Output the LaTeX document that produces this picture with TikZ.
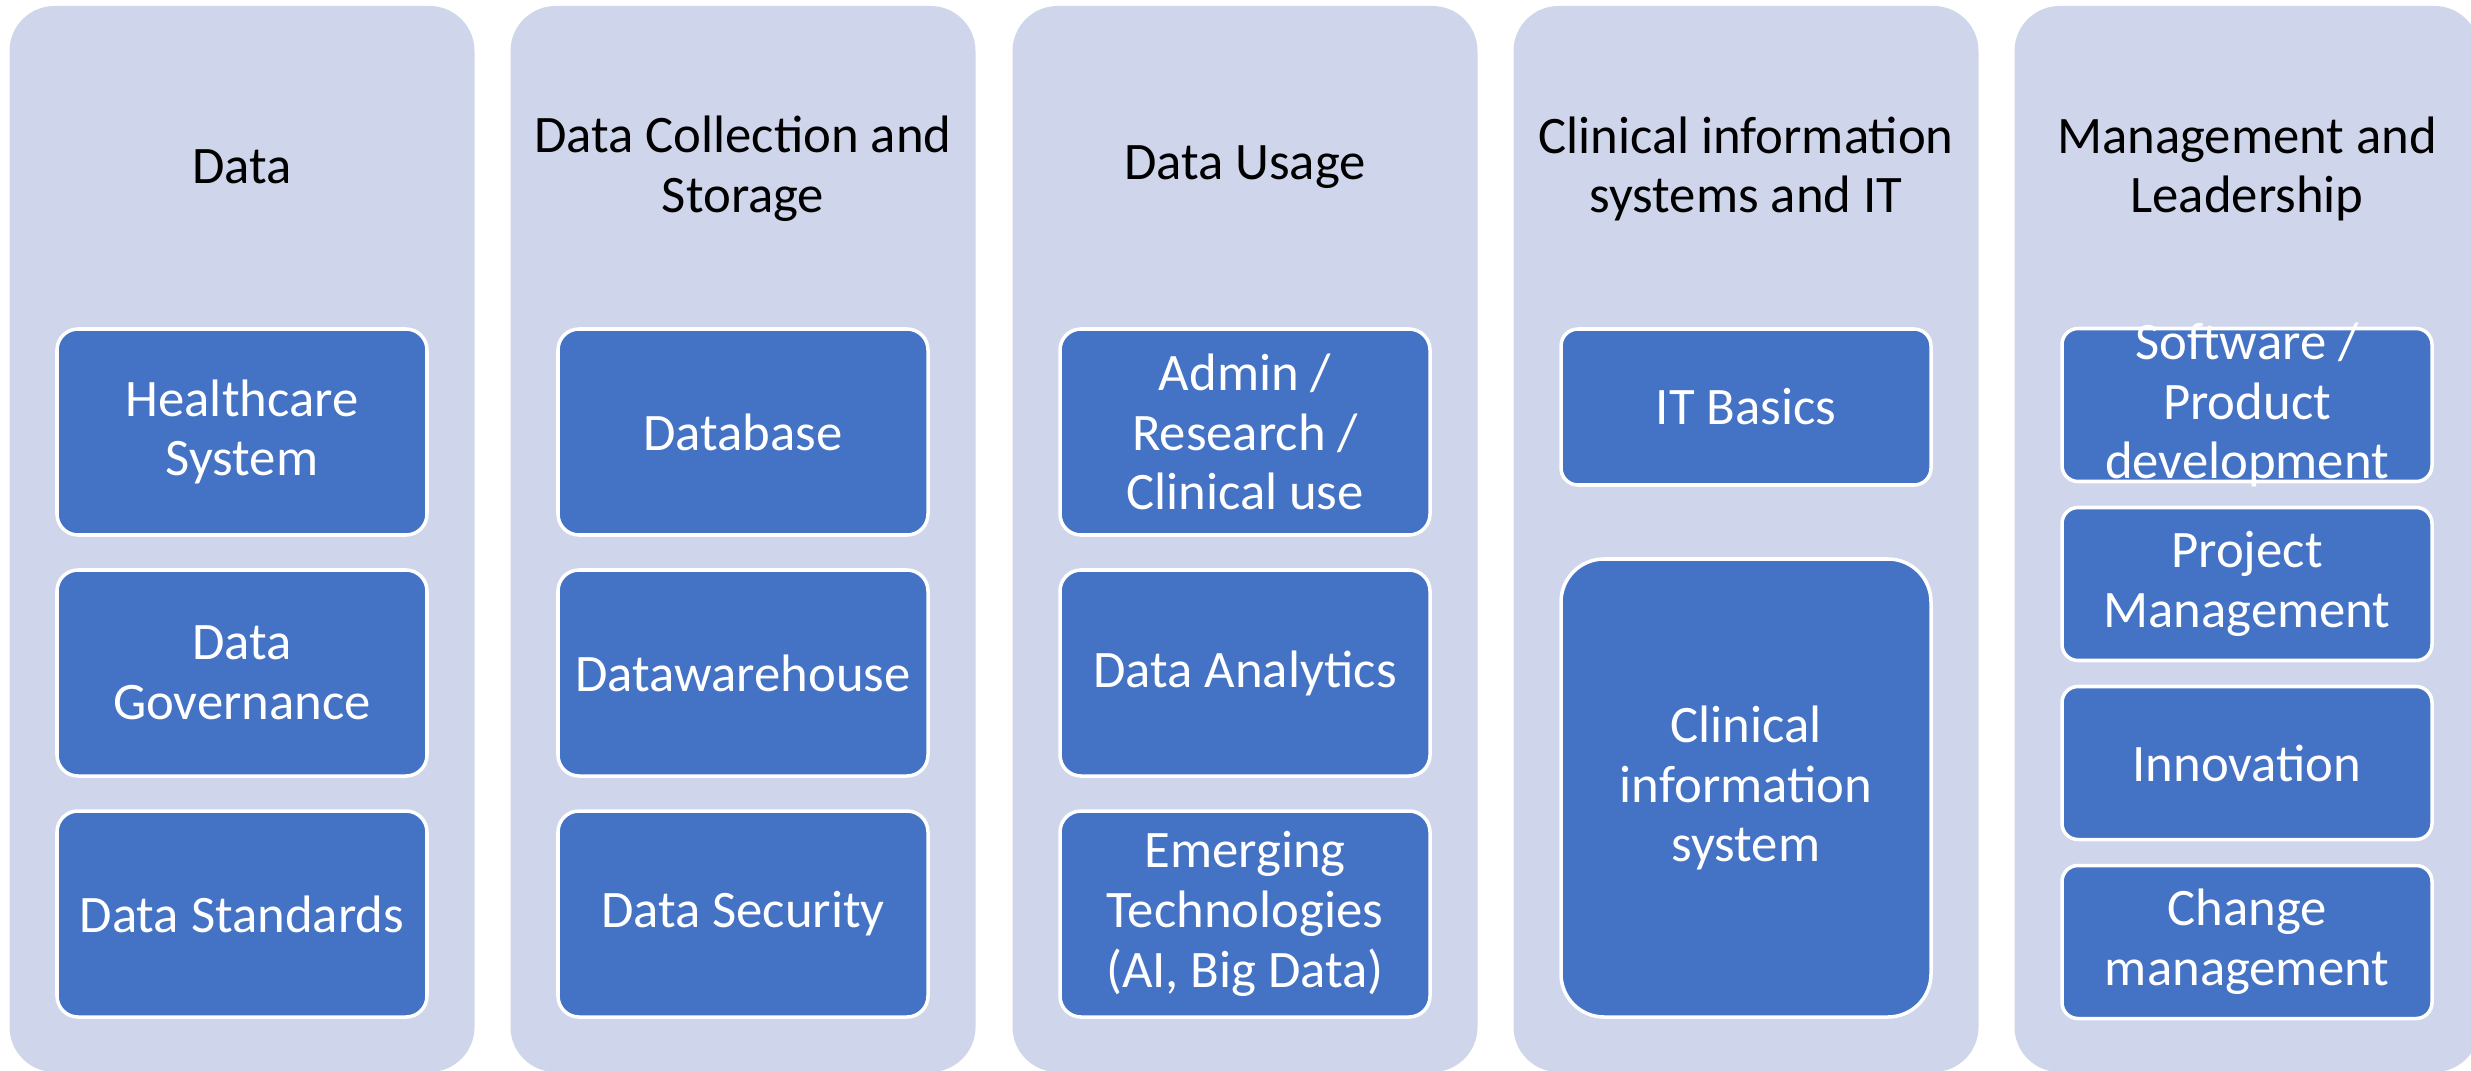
\documentclass[tikz,border=0pt]{standalone}
\usepackage{fontspec}
\setmainfont{Carlito}
\usetikzlibrary{positioning}

\definecolor{panelbg}{HTML}{CFD5EA}
\definecolor{topicblue}{HTML}{4472C4}

\tikzset{
  panel/.style={fill=panelbg, rounded corners=0.45cm, minimum width=4.65cm, minimum height=10.66cm, inner sep=0pt, outer sep=0pt},
  heading/.style={align=center, font=\fontsize{15}{17}\selectfont},
  topic/.style={draw=white, line width=1pt, fill=topicblue, text=white, rounded corners=0.21cm,
    minimum width=3.70cm, minimum height=2.06cm, align=center, inner sep=0pt, outer sep=0pt,
    font=\fontsize{15}{17}\selectfont},
  smalltopic/.style={topic, minimum height=1.53cm, rounded corners=0.16cm},
  topictext/.style={text=white, align=center, inner sep=0pt, font=\fontsize{15}{17}\selectfont}
}

\begin{document}
\begin{tikzpicture}
  \useasboundingbox (0,0) rectangle (24.71,10.70);

  % background panels
  \node[panel] (p1) at (2.42, 5.31) {};
  \node[panel] (p2) at (7.43, 5.31) {};
  \node[panel] (p3) at (12.45, 5.31) {};
  \node[panel] (p4) at (17.46, 5.31) {};
  \node[panel] (p5) at (22.47, 5.31) {};

  % headings
  \node[heading] (h1) at (2.42, 9.03) {Data};
  \node[heading] (h2) at (7.43, 9.01) {Data Collection and\\Storage};
  \node[heading] (h3) at (12.45, 9.03) {Data Usage};
  \node[heading] (h4) at (17.46, 9.01) {Clinical information\\systems and IT};
  \node[heading] (h5) at (22.47, 9.01) {Management and\\Leadership};

  % data
  \node[topic] (hcs) at (2.42, 6.38) {Healthcare\\System};
  \node[topic, below=0.35cm of hcs] (gov) {Data\\Governance};
  \node[topic, below=0.35cm of gov] (std) {Data Standards};

  % collection and storage
  \node[topic] (db) at (7.43, 6.38) {Database};
  \node[topic, below=0.35cm of db] (dwh) {Datawarehouse};
  \node[topic, below=0.35cm of dwh] (sec) {Data Security};

  % usage
  \node[topic] (use) at (12.45, 6.38) {Admin /\\Research /\\Clinical use};
  \node[topic, below=0.35cm of use] (ana) {Data Analytics};
  \node[topic, below=0.35cm of ana] (emt) {Emerging\\Technologies\\(AI, Big Data)};

  % clinical IT
  \node[topic, minimum height=1.56cm, rounded corners=0.17cm] (itb) at (17.46, 6.63) {IT Basics};
  \node[topic, minimum height=4.58cm, rounded corners=0.43cm] (cis) at (17.46, 2.82) {Clinical\\information\\system};

  % management (text overflows the first box)
  \node[smalltopic] (swd) at (22.47, 6.65) {};
  \node[topictext] (swdtxt) at (swd.center) {Software /\\Product\\development};
  \node[smalltopic, below=0.26cm of swd] (prj) {Project\\Management};
  \node[smalltopic, below=0.26cm of prj] (inn) {Innovation};
  \node[smalltopic, below=0.26cm of inn] (chg) {Change\\management};
\end{tikzpicture}
\end{document}
